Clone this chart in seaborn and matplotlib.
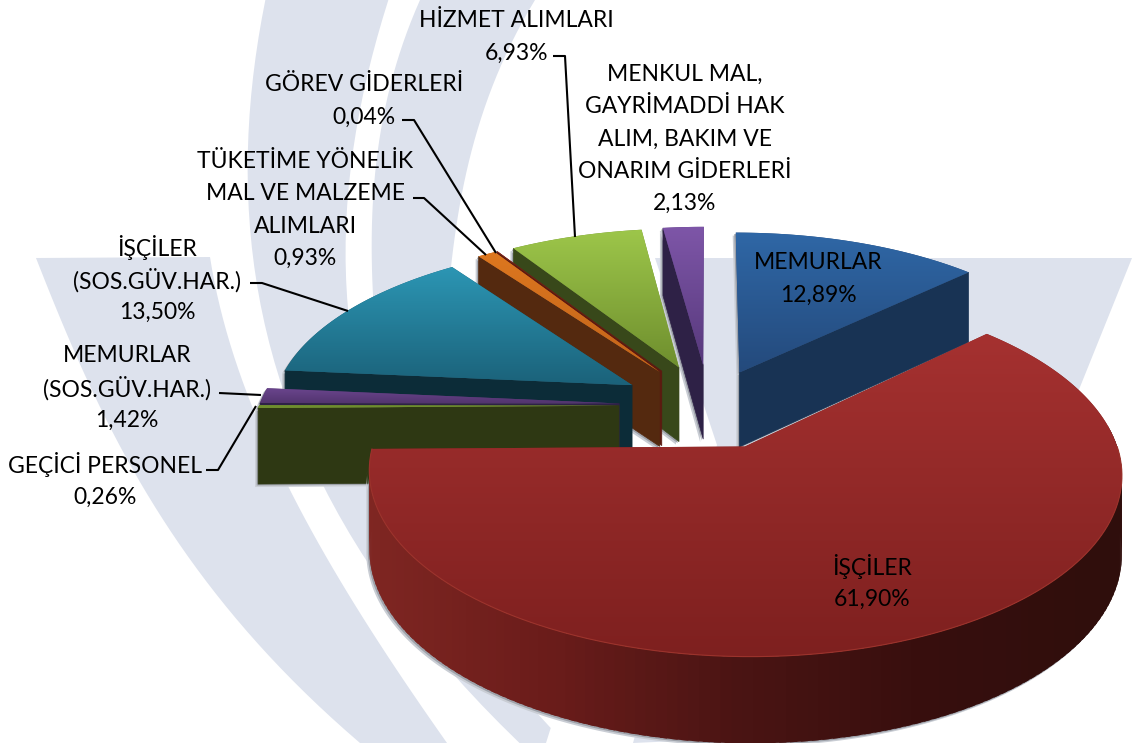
import numpy as np
import seaborn as sns
import matplotlib
matplotlib.use('Agg')
import matplotlib.pyplot as plt
from matplotlib.colors import LinearSegmentedColormap
from matplotlib.patches import Polygon

names = ['MEMURLAR', 'İŞÇİLER', 'GEÇİCİ PERSONEL', 'MEMURLAR\n(SOS.GÜV.HAR.)', 'İŞÇİLER\n(SOS.GÜV.HAR.)',
         'TÜKETİME YÖNELİK\nMAL VE MALZEME\nALIMLARI', 'GÖREV GİDERLERİ', 'HİZMET ALIMLARI',
         'MENKUL MAL,\nGAYRİMADDİ HAK\nALIM, BAKIM VE\nONARIM GİDERLERİ']
values = [12.89, 61.90, 0.26, 1.42, 13.50, 0.93, 0.04, 6.93, 2.13]
explode = [0.22, 0.255, 0.25, 0.25, 0.25, 0.25, 0.25, 0.25, 0.25]
top_colors = [('#2f67a6', '#244a7c'), ('#a53130', '#7e201f'), ('#6f8e2e', '#6f8e2e'), ('#6c4690', '#53356f'),
              ('#2c96b4', '#1b627a'), ('#dd771f', '#c2641a'), ('#7a1e14', '#7a1e14'), ('#9dc64a', '#6f8f2e'),
              ('#7e56a8', '#57397c')]
side_colors = ['#183354', '#5c1917', '#2e3813', '#2e2146', '#0c2c38', '#54290f', '#5c1a10', '#38481a', '#2e2146']
label_xy = [(818, 277), (872, 581), (105, 479), (127, 386), (157, 278), (305, 208), (364, 99), (516, 35), (685, 137)]
leaders = [[(553, 56), (565, 56), (575, 237)], [(402, 120), (414, 120), (496, 253)],
           [(413, 198), (424, 198), (486, 255)], [(250, 283), (262, 283), (348, 311)],
           [(219, 393), (261, 395)], [(206, 470), (218, 470), (256, 406)]]
draw_order = [8, 0, 7, 6, 5, 4, 3, 2, 1]

CX, CY, R, A, P, H = 709, 405.5, 360, 168, 0.14, 76
PALE = '#dde2ed'
LINE_STEP = 32.4


def project(x, y, drop=0.0):
    s = 1 / (1 + P * y)
    return CX + R * x * s, CY - A * y * s + H * drop / (1 + 0.1 * y)


def curve(pts, n=40):
    # smooth one watermark edge, x as a function of y
    pts = np.array(pts, float)
    fit = np.polyfit(pts[:, 1], pts[:, 0], min(3, len(pts) - 1))
    yy = np.linspace(pts[0, 1], pts[-1, 1], n)
    return np.column_stack([np.polyval(fit, yy), yy])


def shadow(poly, z):
    # soft edge under a face, two offset copies
    poly = np.array(poly, float)
    for off, col in ((3, '#c9cdd4'), (1.5, '#9ea2aa')):
        ax.add_patch(Polygon(poly + [-off, off], closed=True, fc=col, ec='none', zorder=z))


sns.set_theme(style='white')
plt.rcParams['font.family'] = ['Lato', 'DejaVu Sans']
fig = plt.figure(figsize=(11.32, 7.43), dpi=100)
ax = fig.add_axes([0, 0, 1, 1])

# watermark behind the pie
bands = [
    np.vstack([[(36, 258), (210, 257)], curve([(210, 257), (220, 307), (290, 490), (447, 743)]),
               curve([(360, 743), (200, 573), (100, 407), (36, 258)])]),
    np.vstack([curve([(265, 0), (250, 100), (255, 240), (265, 330), (320, 490), (475, 687), (513, 743)]),
               [(546, 743)], curve([(550, 728), (400, 500), (343, 307), (345, 200), (370, 100), (385, 0)])]),
    np.vstack([curve([(420, 0), (373, 200), (372, 270), (385, 420)]),
               curve([(440, 420), (451, 267), (491, 90), (535, 0)])]),
    np.array([(655, 258), (1132, 258), (1078, 392), (700, 740), (633, 743), (717, 445)]),
]
for b in bands:
    ax.add_patch(Polygon(b, closed=True, fc=PALE, ec='none', zorder=1))

edges = 90 - 360 * np.cumsum([0] + values) / sum(values)
z = 2
for i in draw_order:
    a0, a1 = np.radians(edges[i]), np.radians(edges[i + 1])
    mid = (a0 + a1) / 2
    ox, oy = explode[i] * np.cos(mid), explode[i] * np.sin(mid)
    tt = np.linspace(a0, a1, max(3, int(abs(a1 - a0) * 120)))
    rx, ry = ox + np.cos(tt), oy + np.sin(tt)
    px, py = project(np.r_[ox, rx], np.r_[oy, ry])
    face = np.column_stack([px, py])

    # cut faces, only those turned to the viewer
    quads = []
    for ang, visible in ((a0, np.cos(a0) < 0), (a1, np.cos(a1) > 0)):
        if visible:
            ex, ey = ox + np.cos(ang), oy + np.sin(ang)
            quads.append([project(ox, oy), project(ex, ey), project(ex, ey, 1), project(ox, oy, 1)])

    # outer wall on the front half
    wall = []
    if i == 1:
        ramp = sns.blend_palette(['#7f2622', '#6a1c1a', '#4a1413', '#370e0d', '#2f0e0c'], 200)
        keep = np.where(np.sin(tt) <= 0.12)[0]
        for k in keep[:-3:3]:
            e = min(k + 5, len(tt) - 1)
            wall.append([project(rx[k], ry[k]), project(rx[e], ry[e]), project(rx[e], ry[e], 1), project(rx[k], ry[k], 1)])
        low = np.where(np.sin(tt) <= -0.12)[0]
        upper = [project(rx[k], ry[k]) for k in low]
        lower = [project(rx[k], ry[k], 1) for k in low]
        shadow(np.vstack([upper, lower[::-1]]), z - 0.2)
    else:
        for q in quads:
            shadow(q, z - 0.2)
        shadow(face, z - 0.2)

    for q in quads:
        ax.add_patch(Polygon(q, closed=True, fc=side_colors[i], ec=side_colors[i], lw=0.5, zorder=z))
    # later wall pieces overlap the earlier ones so no seams show
    for q in wall:
        t = (q[0][0] - 367) / (1118 - 367)
        c = ramp[int(np.clip(t, 0, 0.999) * 200)]
        ax.add_patch(Polygon(q, closed=True, fc=c, ec='none', zorder=z))

    # top face with a vertical gradient
    ax.add_patch(Polygon(face, closed=True, fc=top_colors[i][1], ec='none', zorder=z + 0.5))
    cmap = LinearSegmentedColormap.from_list('top%d' % i, sns.blend_palette(top_colors[i], 32))
    clip = Polygon(face, closed=True, transform=ax.transData)
    im = ax.imshow(np.linspace(0, 1, 128)[:, None], cmap=cmap, aspect='auto', zorder=z + 0.6,
                   extent=(px.min(), px.max(), py.max(), py.min()))
    im.set_clip_path(clip)
    if i == 1:
        rim = [project(rx[k], ry[k]) for k in range(len(tt)) if np.sin(tt[k]) < 0]
        ax.plot(*zip(*rim), color='#9c332c', lw=0.8, zorder=z + 0.7)
    z += 1

for line in leaders:
    ax.plot(*zip(*line), color='black', lw=1.5, zorder=30, solid_capstyle='butt')

for name, v, (tx, ty) in zip(names, values, label_xy):
    rows = name.split('\n') + [('%.2f%%' % v).replace('.', ',')]
    # even row spacing, a block of text spaces accented rows unevenly
    for n, row in enumerate(rows):
        ax.text(tx, ty + (n - (len(rows) - 1) / 2) * LINE_STEP, row, ha='center', va='center_baseline',
                fontsize=16.5, color='black', zorder=31)

ax.set_xlim(0, 1132)
ax.set_ylim(743, 0)
ax.axis('off')
sns.despine(ax=ax, left=True, bottom=True)
fig.savefig('out.png', dpi=100, facecolor='white')
